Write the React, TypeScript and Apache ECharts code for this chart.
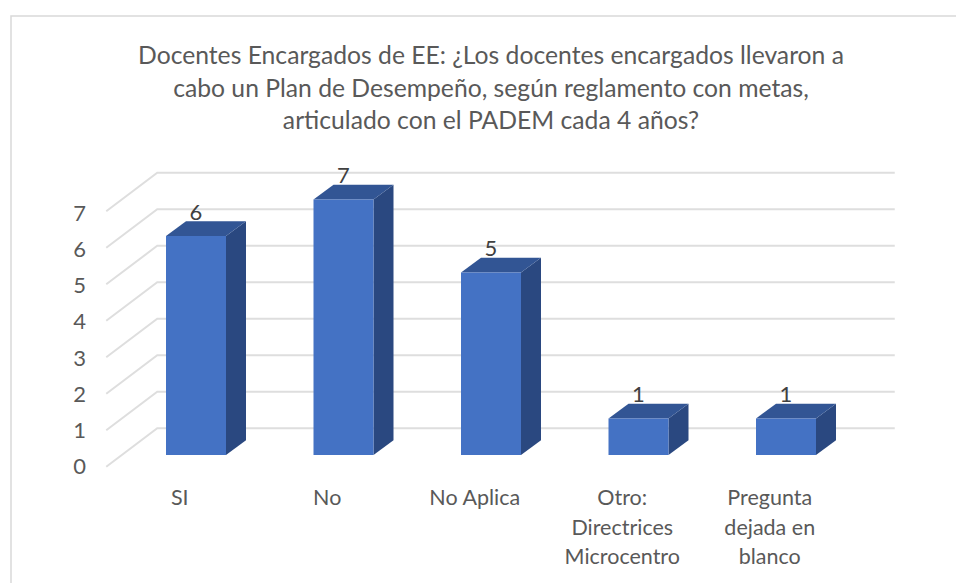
import React, { useEffect, useRef } from "react";
import * as echarts from "echarts";

const categories = ["SI", "No", "No Aplica", "Otro:\nDirectrices\nMicrocentro", "Pregunta\ndejada en\nblanco"];
const values = [6, 7, 5, 1, 1];
const wallTicks = [0, 1, 2, 3, 4, 5, 6, 7];
const titleText = "Docentes Encargados de EE: ¿Los docentes encargados llevaron a\ncabo un Plan de Desempeño, según reglamento con metas,\narticulado con el PADEM cada 4 años?";

const FONT = "Lato";

export default function App() {
  const ref = useRef<HTMLDivElement>(null);
  useEffect(() => {
    const chart = echarts.init(ref.current!, undefined, { renderer: "svg" });
    const plotLeft = 122.25;
    const plotRight = 859.75;
    chart.setOption({
      animation: false,
      backgroundColor: "#ffffff",
      graphic: [
        {
          type: "polyline",
          silent: true,
          shape: { points: [[11, 583], [11, 16], [956, 16]] },
          style: { stroke: "#d9d9d9", lineWidth: 1.5, fill: "none" },
        },
      ],
      title: {
        text: titleText,
        left: 486,
        top: 33.5,
        textAlign: "center",
        textStyle: { fontFamily: FONT, fontSize: 24.7, fontWeight: "normal", color: "#595959", lineHeight: 32.5, align: "center" },
      },
      grid: [
        { left: plotLeft, width: plotRight - plotLeft, top: 199.5, height: 255.5 },
        { left: 106, width: 737.5, top: 212.5, height: 253 },
      ],
      xAxis: [
        { type: "category", gridIndex: 0, data: categories, show: false },
        {
          type: "category",
          gridIndex: 1,
          data: categories,
          axisLine: { show: false },
          axisTick: { show: false },
          axisLabel: { fontFamily: FONT, fontSize: 21.5, color: "#595959", margin: 17, lineHeight: 29.5, interval: 0 },
        },
      ],
      yAxis: [
        { type: "value", gridIndex: 0, min: 0, max: 7, interval: 1, show: false },
        {
          type: "value",
          gridIndex: 1,
          min: 0,
          max: 7,
          interval: 1,
          axisLine: { show: false },
          axisTick: { show: false },
          splitLine: { show: false },
          axisLabel: { fontFamily: FONT, fontSize: 22, color: "#595959", margin: 20 },
        },
      ],
      series: [
        {
          type: "custom",
          xAxisIndex: 0,
          yAxisIndex: 0,
          clip: false,
          silent: true,
          data: wallTicks.map((v) => [0, v]),
          encode: { x: 0, y: 1 },
          renderItem: (_p: any, api: any) => {
            const y = api.coord([0, api.value(1)])[1];
            return {
              type: "polyline",
              shape: {
                points: [
                  [plotLeft - 16, y + 11.7],
                  [plotLeft + 35, y - 26.7],
                  [plotRight + 35, y - 26.7],
                ],
              },
              style: { stroke: "#dedede", lineWidth: 2, fill: "none" },
            };
          },
        },
        {
          type: "custom",
          xAxisIndex: 0,
          yAxisIndex: 0,
          clip: false,
          silent: true,
          data: values.map((v, i) => [i, v]),
          encode: { x: 0, y: 1 },
          renderItem: (_p: any, api: any) => {
            const v = api.value(1);
            const [cx, top] = api.coord([api.value(0), v]);
            const base = api.coord([api.value(0), 0])[1];
            const w = 60;
            const dx = 20;
            const dy = 14.7;
            const l = cx - w / 2;
            const r = cx + w / 2;
            return {
              type: "group",
              children: [
                {
                  type: "polygon",
                  shape: { points: [[r, base], [r + dx, base - dy], [r + dx, top - dy], [r, top]] },
                  style: { fill: "#2a4880" },
                },
                {
                  type: "polygon",
                  shape: { points: [[l, top], [l + dx, top - dy], [r + dx, top - dy], [r, top]] },
                  style: { fill: "#325594" },
                },
                {
                  type: "rect",
                  shape: { x: l, y: top, width: w, height: base - top },
                  style: { fill: "#4472c4" },
                },
                {
                  type: "text",
                  style: {
                    text: String(v),
                    x: cx,
                    y: top - 25,
                    textAlign: "center",
                    textVerticalAlign: "middle",
                    fill: "#404040",
                    font: `22px ${FONT}`,
                  },
                },
              ],
            };
          },
        },
      ],
    });
    return () => chart.dispose();
  }, []);
  return <div ref={ref} style={{ position: "fixed", left: 0, top: 0, width: 956, height: 583 }} />;
}
